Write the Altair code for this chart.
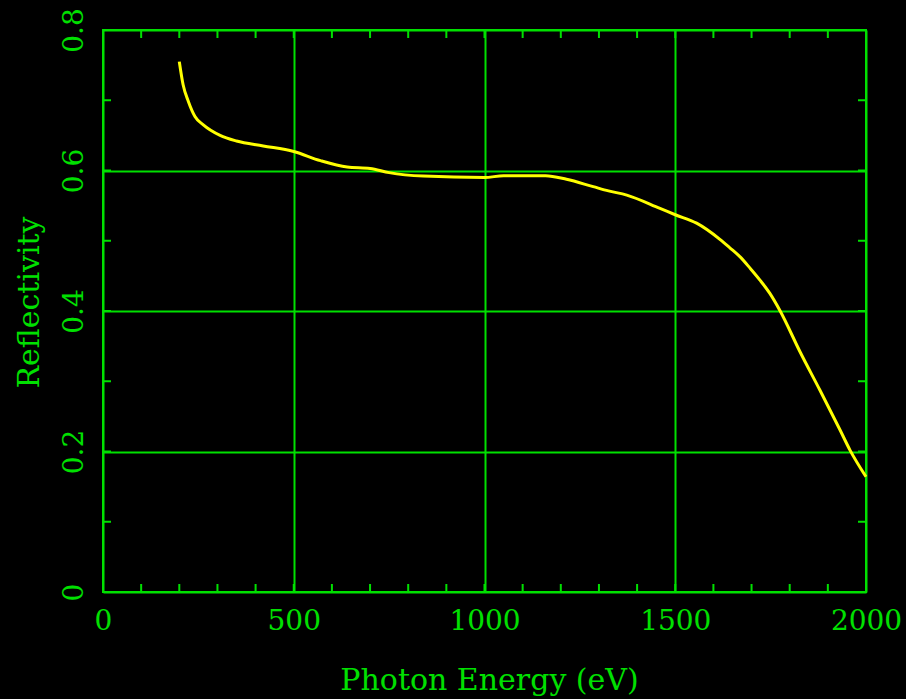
import altair as alt
import pandas as pd

energy = [200, 210, 224, 241, 263, 307, 350, 420, 500, 570, 640, 700, 750, 840,
          1000, 1050, 1160, 1215, 1285, 1325, 1373, 1460, 1500, 1556, 1617, 1643,
          1670, 1696, 1722, 1748, 1775, 1827, 1879, 1932, 1958, 2000]
reflect = [0.755, 0.722, 0.698, 0.677, 0.665, 0.650, 0.642, 0.635, 0.627, 0.614,
           0.605, 0.603, 0.597, 0.592, 0.590, 0.5926, 0.5926, 0.5875, 0.577, 0.571,
           0.565, 0.546, 0.537, 0.525, 0.502, 0.490, 0.477, 0.461, 0.444, 0.425,
           0.400, 0.342, 0.2875, 0.2306, 0.202, 0.164]

x_major = [0, 500, 1000, 1500, 2000]
y_major = [0, 0.2, 0.4, 0.6, 0.8]
x_minor = [0, 100, 200, 300, 400, 500, 600, 700, 800, 900, 1000, 1100, 1200,
           1300, 1400, 1500, 1600, 1700, 1800, 1900, 2000]
y_minor = [0, 0.1, 0.2, 0.3, 0.4, 0.5, 0.6, 0.7, 0.8]

GREEN = "#00e000"
YELLOW = "#ffff00"
FONT = "DejaVu Serif"

df = pd.DataFrame({"e": energy, "r": reflect})
dfx = pd.DataFrame({"e": x_minor})
dfy = pd.DataFrame({"r": y_minor})

xscale = alt.Scale(domain=[0, 2000], nice=False, zero=False)
yscale = alt.Scale(domain=[0, 0.8], nice=False, zero=False)

xaxis = alt.Axis(values=x_major, grid=True, gridColor=GREEN, gridWidth=2, gridOpacity=1,
                 ticks=False, domain=False, labelColor=GREEN, labelFont=FONT,
                 labelFontSize=28, labelBaseline="alphabetic", labelPadding=37,
                 labelFlush=False, labelOverlap=False, format="d",
                 title="Photon Energy (eV)", titleColor=GREEN, titleFont=FONT,
                 titleFontSize=30, titleFontWeight="normal", titleX=386, titleY=97,
                 titleBaseline="alphabetic", titleAlign="center")
yaxis = alt.Axis(values=y_major, grid=True, gridColor=GREEN, gridWidth=2, gridOpacity=1,
                 ticks=False, domain=False, labelColor=GREEN, labelFont=FONT,
                 labelFontSize=28, labelAngle=-90, labelAlign="center",
                 labelBaseline="alphabetic", labelPadding=21, labelFlush=False,
                 labelOverlap=False, labelExpr="datum.value == 0 ? '0' : format(datum.value, '.1f')",
                 title="Reflectivity", titleColor=GREEN, titleFont=FONT,
                 titleFontSize=30, titleFontWeight="normal", titleAngle=-90,
                 titleX=-65, titleY=272, titleAlign="center", titleBaseline="alphabetic")

line = alt.Chart(df).mark_line(color=YELLOW, strokeWidth=3, interpolate="monotone").encode(
    x=alt.X("e:Q", scale=xscale, axis=xaxis),
    y=alt.Y("r:Q", scale=yscale, axis=yaxis),
)

def xticks(yv):
    return alt.Chart(dfx).mark_tick(color=GREEN, orient="vertical", size=16,
                                    thickness=2, clip=True, opacity=1).encode(
        x=alt.X("e:Q", scale=xscale), y=alt.datum(yv))

def yticks(xv):
    return alt.Chart(dfy).mark_tick(color=GREEN, orient="horizontal", size=16,
                                    thickness=2, clip=True, opacity=1).encode(
        y=alt.Y("r:Q", scale=yscale), x=alt.datum(xv))

chart = alt.layer(line, xticks(0), xticks(0.8), yticks(0), yticks(2000)).properties(
    width=763, height=562,
    autosize=alt.AutoSizeParams(type="none"),
    padding={"left": 103, "top": 30, "right": 40, "bottom": 107},
    background="black",
).configure_view(stroke=GREEN, strokeWidth=2)

chart.save("out.html", embed_options={"renderer": "svg", "actions": False})
